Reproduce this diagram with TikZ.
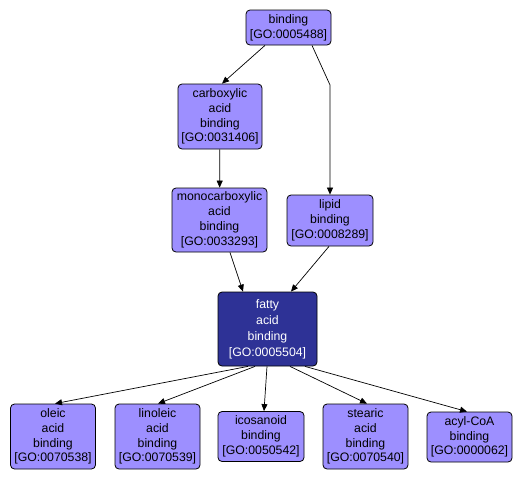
\documentclass[tikz,border=0pt]{standalone}
\usepackage{fontspec}
\setmainfont{Liberation Sans}
\usetikzlibrary{arrows.meta}
\definecolor{gofill}{RGB}{157,143,255}
\definecolor{godark}{RGB}{46,50,150}
\begin{document}
\begin{tikzpicture}[x=1pt,y=-1pt,
  gobox/.style={draw=black, fill=gofill, rounded corners=4pt, line width=0.8pt,
    align=center, inner sep=0pt, font=\fontsize{12.3}{14.8}\selectfont},
  godk/.style={gobox, fill=godark, text=white, font=\fontsize{12.3}{16}\selectfont},
  edge/.style={-{Triangle[length=7pt,width=6pt]}, line width=0.7pt, black}]
\useasboundingbox (0,0) rectangle (530,480);
\node[gobox, minimum width=85pt, minimum height=35pt] (b) at (288.5,27.5) {binding\\{[GO:0005488]}};
\node[gobox, minimum width=84pt, minimum height=65pt] (c) at (220,116.5) {carboxylic\\acid\\binding\\{[GO:0031406]}};
\node[gobox, minimum width=95pt, minimum height=64pt] (m) at (219.5,220) {monocarboxylic\\acid\\binding\\{[GO:0033293]}};
\node[gobox, minimum width=86pt, minimum height=51pt] (l) at (330,220.5) {lipid\\binding\\{[GO:0008289]}};
\node[godk, minimum width=99pt, minimum height=74pt] (f) at (267.5,329) {fatty\\acid\\binding\\{[GO:0005504]}};
\node[gobox, minimum width=85pt, minimum height=65pt] (o) at (53,436.5) {oleic\\acid\\binding\\{[GO:0070538]}};
\node[gobox, minimum width=85pt, minimum height=65pt] (li) at (157.5,436.5) {linoleic\\acid\\binding\\{[GO:0070539]}};
\node[gobox, minimum width=86pt, minimum height=50pt] (i) at (261,436.5) {icosanoid\\binding\\{[GO:0050542]}};
\node[gobox, minimum width=85pt, minimum height=65pt] (s) at (365.5,436.5) {stearic\\acid\\binding\\{[GO:0070540]}};
\node[gobox, minimum width=85pt, minimum height=50pt] (a) at (469.5,437) {acyl-CoA\\binding\\{[GO:0000062]}};
\coordinate (bend) at (330,85);
\draw[edge] (b.south -| 265,0) -- (c.north -| 222,0);
\draw[edge] (b.south -| 312,0) -- (bend) -- (l.north);
\draw[edge] (c) -- (m);
\draw[edge] (m.south -| 230,0) -- (f.north -| 243,0);
\draw[edge] (l.south -| 329,0) -- (f.north -| 291,0);
\draw[edge] (f.south -| 248,0) -- (o.north -| 55,0);
\draw[edge] (f.south -| 255,0) -- (li.north -| 158,0);
\draw[edge] (f.south -| 267,0) -- (i.north -| 264,0);
\draw[edge] (f.south -| 290,0) -- (s.north -| 367,0);
\draw[edge] (f.south -| 305,0) -- (a.north -| 467,0);
\end{tikzpicture}
\end{document}
